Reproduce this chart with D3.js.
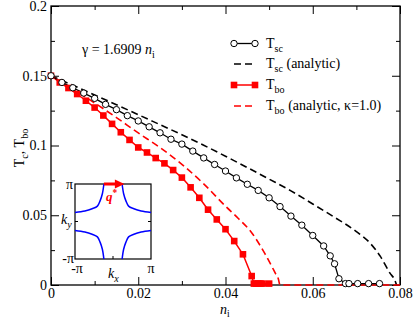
<!DOCTYPE html>
<html>
<head>
<meta charset="utf-8">
<script src="https://cdn.jsdelivr.net/npm/d3@7"></script>
<style>
body{margin:0;background:#fff}
svg text{font-family:"Liberation Serif","Times New Roman",Times,serif !important}
</style>
</head>
<body>
<script>
// T_sc, numerical (black circles)
var scN = [0,0.0025,0.005,0.0075,0.01,0.0125,0.015,0.0175,0.02,0.0225,0.025,0.0275,0.03,0.0325,0.035,0.0375,0.04,0.0425,0.045,0.0475,0.05,0.0525,0.055,0.0575,0.06,0.0625,0.064,0.065,0.066,0.0675,0.0683,0.0703,0.0728,0.0753];
var scT = [0.15,0.1452,0.1414,0.1376,0.1338,0.1295,0.1257,0.1214,0.1176,0.1134,0.1091,0.1045,0.1010,0.0960,0.0911,0.0864,0.0817,0.0768,0.0722,0.0678,0.0625,0.0562,0.0494,0.0429,0.0355,0.0280,0.0209,0.0152,0.0045,0.001,0.001,0.001,0.001,0.001];

// T_sc analytic (black dashed)
var scAnN = [0,0.005,0.01,0.015,0.02,0.025,0.03,0.035,0.04,0.045,0.05,0.055,0.06,0.065,0.07,0.073,0.0755,0.0777,0.0788,0.0792];
var scAnT = [0.15,0.1432,0.1362,0.1292,0.1221,0.1149,0.1077,0.1002,0.0923,0.0842,0.0759,0.0675,0.0581,0.0485,0.0383,0.0305,0.0205,0.0085,0.0035,0];

// T_bo, numerical (red squares)
var boN = [0,0.002,0.004,0.006,0.008,0.010,0.012,0.014,0.016,0.018,0.020,0.022,0.024,0.026,0.028,0.030,0.032,0.034,0.036,0.038,0.040,0.042,0.044,0.046,0.0465,0.047,0.0475,0.048,0.0485,0.050];
var boT = [0.15,0.1452,0.1412,0.1369,0.1321,0.1272,0.1215,0.1155,0.1095,0.1040,0.0986,0.0950,0.0910,0.0872,0.0824,0.0770,0.0700,0.0625,0.0540,0.0470,0.0400,0.0315,0.0220,0.0064,0.001,0.001,0.001,0.001,0.001,0.001];

// T_bo analytic, kappa=1.0 (red dashed)
var boAnN = [0,0.005,0.01,0.015,0.02,0.025,0.03,0.035,0.04,0.043,0.046,0.049,0.0505,0.0515,0.0521,0.0525,0.08];
var boAnT = [0.15,0.1405,0.1305,0.1200,0.1090,0.0985,0.0865,0.0725,0.0565,0.0475,0.0375,0.0226,0.0140,0.0080,0.0045,0,0];

var xTicks = [0,0.02,0.04,0.06,0.08];
var xTickLabels = ["0","0.02","0.04","0.06","0.08"];
var xMinor = [0.01,0.03,0.05,0.07];
var yTicks = [0,0.05,0.1,0.15,0.2];
var yTickLabels = ["0","0.05","0.1","0.15","0.2"];
var yMinor = [0.025,0.075,0.125,0.175];

// inset: Fermi surface pocket near a zone corner, offsets in units of pi
var pocketDx = [0,0.26,0.45,0.59,0.66,0.72,0.76];
var pocketDy = [0.76,0.72,0.66,0.59,0.45,0.26,0];

var FONT = "'Liberation Serif','Times New Roman',Times,serif";
var W = 415, H = 319;
var svg = d3.select("body").append("svg").attr("width",W).attr("height",H)
	.attr("font-family",FONT);
svg.append("rect").attr("width",W).attr("height",H).attr("fill","#fff");

var x = d3.scaleLinear().domain([0,0.08]).range([51,400]);
var y = d3.scaleLinear().domain([0,0.2]).range([285,6]);

// text with sub/superscripts
rich = function(sel,px,py,parts,size){
	var t = sel.append("text").attr("x",px).attr("y",py).attr("font-size",size).attr("font-family",FONT);
	var shift = 0;
	parts.forEach(function(p){
		var s = t.append("tspan").text(p.t);
		var target = p.sub ? (p.sh || size*0.3) : (p.sup ? -size*0.38 : 0);
		s.attr("dy", target - shift);
		shift = target;
		if(p.sub || p.sup) s.attr("font-size", p.fs || size*0.72);
		if(p.it) s.attr("font-style","italic");
		if(p.b) s.attr("font-weight","bold");
	});
	return t;
};

// axes
setAxis = function(axis,tr,vals,size,labels,pad){
	var g = svg.append("g").attr("transform",tr)
		.call(axis.tickValues(vals).tickSize(size).tickSizeOuter(0).tickPadding(pad)
			.tickFormat(function(d,i){ return labels ? labels[i] : ""; }));
	g.select(".domain").remove();
	g.attr("font-family",FONT).attr("font-size",14);
	g.selectAll("line").attr("stroke","#000").attr("stroke-width",1);
	g.selectAll("text").attr("fill","#000").attr("font-family",FONT);
	return g;
};
setAxis(d3.axisBottom(x),"translate(0,285)",xTicks,-8,xTickLabels,3.5);
setAxis(d3.axisBottom(x),"translate(0,285)",xMinor,-4,null,5);
setAxis(d3.axisTop(x),"translate(0,6)",xTicks,-8,null,6);
setAxis(d3.axisTop(x),"translate(0,6)",xMinor,-4,null,6);
setAxis(d3.axisLeft(y),"translate(51,0)",yTicks,-8,yTickLabels,4);
setAxis(d3.axisLeft(y),"translate(51,0)",yMinor,-4,null,4);
setAxis(d3.axisRight(y),"translate(400,0)",yTicks,-8,null,4);
setAxis(d3.axisRight(y),"translate(400,0)",yMinor,-4,null,4);

svg.append("rect").attr("x",51).attr("y",6).attr("width",349).attr("height",279)
	.attr("fill","none").attr("stroke","#000").attr("stroke-width",1.3);

// axis titles
rich(svg,0,0,[{t:"T"},{t:"c",sub:1},{t:", T"},{t:"bo",sub:1}],14)
	.attr("transform","translate(24,148) rotate(-90)").attr("text-anchor","middle");
rich(svg,220,314,[{t:"n",it:1},{t:"i",sub:1,sh:2.6,fs:9.5}],14);
rich(svg,82,54,[{t:"\u03b3 = 1.6909 "},{t:"n",it:1},{t:"i",sub:1}],14);

// curves
var line = d3.line().x(function(d){return x(d[0]);}).y(function(d){return y(d[1]);});
var smooth = d3.line().curve(d3.curveMonotoneX).x(function(d){return x(d[0]);}).y(function(d){return y(d[1]);});
var pts = function(a,b){ return a.map(function(v,i){ return [v,b[i]]; }); };

svg.append("path").datum(pts(scAnN,scAnT)).attr("d",smooth)
	.attr("fill","none").attr("stroke","#000").attr("stroke-width",1.6).attr("stroke-dasharray","7,4");
svg.append("path").datum(pts(boAnN,boAnT)).attr("d",smooth)
	.attr("fill","none").attr("stroke","#f00").attr("stroke-width",1.6).attr("stroke-dasharray","7,4");
svg.append("path").datum(pts(boN,boT)).attr("d",line)
	.attr("fill","none").attr("stroke","#f00").attr("stroke-width",1.5);
svg.append("path").datum(pts(scN,scT)).attr("d",line)
	.attr("fill","none").attr("stroke","#000").attr("stroke-width",1.3);

svg.append("g").selectAll("rect").data(pts(boN,boT)).enter().append("rect")
	.attr("x",function(d){return x(d[0])-3.3;}).attr("y",function(d){return y(d[1])-3.3;})
	.attr("width",6.6).attr("height",6.6).attr("fill","#f00");
svg.append("g").selectAll("circle").data(pts(scN,scT)).enter().append("circle")
	.attr("cx",function(d){return x(d[0]);}).attr("cy",function(d){return y(d[1]);})
	.attr("r",3.2).attr("fill","#fff").attr("stroke","#000").attr("stroke-width",1);

// legend
var legRows = [43.5,64,85,106];
var leg = svg.append("g");
leg.append("line").attr("x1",234).attr("x2",255).attr("y1",legRows[0]).attr("y2",legRows[0]).attr("stroke","#000").attr("stroke-width",1.3);
[234,255].forEach(function(lx){
	leg.append("circle").attr("cx",lx).attr("cy",legRows[0]).attr("r",3.2).attr("fill","#fff").attr("stroke","#000");
});
leg.append("line").attr("x1",234).attr("x2",256).attr("y1",legRows[1]).attr("y2",legRows[1]).attr("stroke","#000").attr("stroke-width",1.6).attr("stroke-dasharray","7,4");
leg.append("line").attr("x1",234).attr("x2",255).attr("y1",legRows[2]).attr("y2",legRows[2]).attr("stroke","#f00").attr("stroke-width",1.5);
[234,255].forEach(function(lx){
	leg.append("rect").attr("x",lx-3.3).attr("y",legRows[2]-3.3).attr("width",6.6).attr("height",6.6).attr("fill","#f00");
});
leg.append("line").attr("x1",234).attr("x2",256).attr("y1",legRows[3]).attr("y2",legRows[3]).attr("stroke","#f00").attr("stroke-width",1.6).attr("stroke-dasharray","7,4");
rich(leg,266,legRows[0]+4,[{t:"T"},{t:"sc",sub:1}],14);
rich(leg,266,legRows[1]+4,[{t:"T"},{t:"sc",sub:1},{t:" (analytic)"}],14);
rich(leg,266,legRows[2]+4,[{t:"T"},{t:"bo",sub:1}],14);
rich(leg,266,legRows[3]+4,[{t:"T"},{t:"bo",sub:1},{t:" (analytic, \u03ba=1.0)"}],14);

// inset
var kx = d3.scaleLinear().domain([-1,1]).range([75,151]);
var ky = d3.scaleLinear().domain([-1,1]).range([259,184]);
var ins = svg.append("g");
ins.append("rect").attr("x",75).attr("y",184).attr("width",76).attr("height",75)
	.attr("fill","#fff").attr("stroke","#000").attr("stroke-width",1.2);
var kline = d3.line().curve(d3.curveCatmullRom)
	.x(function(d){return kx(d[0]);}).y(function(d){return ky(d[1]);});
[[-1,1],[1,1],[-1,-1],[1,-1]].forEach(function(c){
	var p = pocketDx.map(function(dx,i){ return [c[0]-c[0]*dx, c[1]-c[1]*pocketDy[i]]; });
	ins.append("path").datum(p).attr("d",kline).attr("fill","none").attr("stroke","#00f").attr("stroke-width",1.5);
});
ins.append("line").attr("x1",kx(0)).attr("x2",kx(0)).attr("y1",259).attr("y2",256).attr("stroke","#000");
ins.append("line").attr("x1",75).attr("x2",78).attr("y1",ky(0)).attr("y2",ky(0)).attr("stroke","#000");
ins.append("line").attr("x1",151).attr("x2",148).attr("y1",ky(0)).attr("y2",ky(0)).attr("stroke","#000");
// q* arrow
ins.append("line").attr("x1",kx(-0.24)).attr("x2",kx(0.1)).attr("y1",184).attr("y2",184)
	.attr("stroke","#f00").attr("stroke-width",3);
ins.append("path").attr("d","M"+kx(0.05)+",179.5 L"+kx(0.3)+",184 L"+kx(0.05)+",188.5 Z").attr("fill","#f00");
rich(ins,106,201,[{t:"q",it:1,b:1},{t:"*",sup:1,b:1}],13).attr("fill","#f00");
ins.append("text").attr("x",73).attr("y",189).attr("font-size",14).attr("text-anchor","end").text("\u03c0");
ins.append("text").attr("x",74).attr("y",263).attr("font-size",14).attr("text-anchor","end").text("-\u03c0");
ins.append("text").attr("x",77).attr("y",273).attr("font-size",14).attr("text-anchor","middle").text("-\u03c0");
ins.append("text").attr("x",151).attr("y",273).attr("font-size",14).attr("text-anchor","middle").text("\u03c0");
rich(ins,61,224,[{t:"k",it:1},{t:"y",sub:1,it:1}],14);
rich(ins,108,278,[{t:"k",it:1},{t:"x",sub:1,it:1}],14);
</script>
</body>
</html>
